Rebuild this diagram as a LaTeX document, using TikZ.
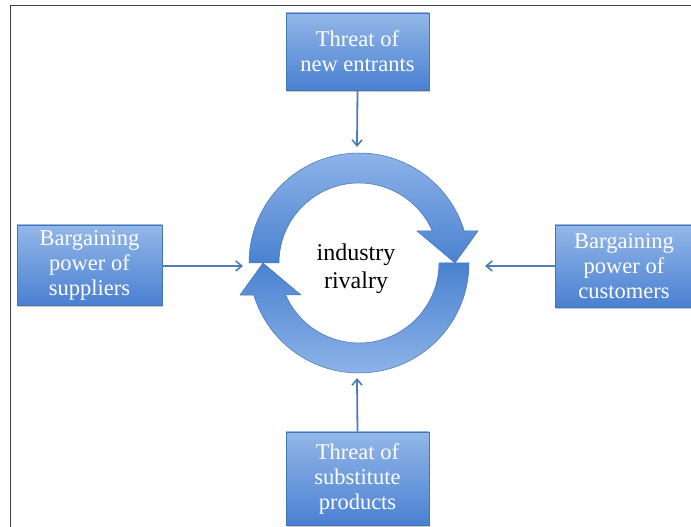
\documentclass[tikz,border=0pt]{standalone}
\usepackage{fontspec}
\setmainfont{Liberation Serif}
\usetikzlibrary{shadows,arrows.meta}
\definecolor{boxtop}{HTML}{93B7E8}
\definecolor{boxbot}{HTML}{4A80D2}
\definecolor{boxedge}{HTML}{4373B8}
\definecolor{arrowc}{HTML}{4F7DBA}
\definecolor{ringlight}{HTML}{8DB3E8}
\definecolor{ringdark}{HTML}{4A82D0}
\begin{document}
\begin{tikzpicture}[x=1pt,y=1pt,
  forcebox/.style={draw=boxedge, line width=0.6pt, top color=boxtop, bottom color=boxbot,
    text=white, align=center, inner sep=0pt, font=\fontsize{22.5}{25}\selectfont,
    drop shadow={opacity=0.35, shadow xshift=1pt, shadow yshift=-2pt, fill=black!60}},
  link/.style={draw=arrowc, line width=1.8pt, -{Straight Barb[length=6pt,width=10pt,line width=1.6pt]}},
  ringpart/.style={draw=boxedge, line width=0.5pt}
]
\useasboundingbox (0,0) rectangle (691,527);
\fill[white] (0,0) rectangle (691,527);
% frame
\draw[line width=1.8pt, draw=black!75] (10.5,0) -- (10.5,521.5) -- (692,521.5);

% boxes
\node[forcebox, minimum width=143pt, minimum height=77pt] (top) at (357.5,475.5) {Threat of\\new entrants};
\node[forcebox, minimum width=145pt, minimum height=80pt] (left) at (89.5,262) {Bargaining\\power of\\suppliers};
\node[forcebox, minimum width=138pt, minimum height=82pt] (right) at (624,261) {Bargaining\\power of\\customers};
\node[forcebox, minimum width=143pt, minimum height=93pt] (bottom) at (357.5,48.5) {Threat of\\substitute\\products};

% ring
\coordinate (c) at (359,264);
\path[ringpart, top color=ringlight, bottom color=ringdark]
  (249,264) arc[start angle=180, end angle=17, radius=110]
  -- (478,296) -- (455,264) -- (417,296) -- (432.3,296)
  arc[start angle=23.58, end angle=180, radius=80] -- cycle;
\path[ringpart, top color=ringdark, bottom color=ringlight]
  (469,264) arc[start angle=0, end angle=-163, radius=110]
  -- (240,232) -- (263,264) -- (301,232) -- (285.7,232)
  arc[start angle=-156.42, end angle=0, radius=80] -- cycle;
\node[font=\fontsize{24}{28}\selectfont, align=center, text=black] (rivalry) at (356,258) {industry\\rivalry};

% connector ends
\coordinate (ttop) at (357,380);
\coordinate (tleft) at (243,261);
\coordinate (tright) at (485,261);
\coordinate (tbottom) at (357,149);

\draw[link] (top.south) -- (ttop);
\draw[link] (left.east |- tleft) -- (tleft);
\draw[link] (right.west |- tright) -- (tright);
\draw[link] (bottom.north) -- (tbottom);
\end{tikzpicture}
\end{document}
